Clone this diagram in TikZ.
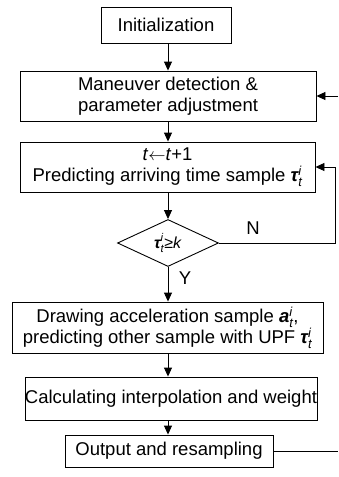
\documentclass[tikz,border=0pt]{standalone}
\usepackage{amsmath}
\usepackage{fontspec}
\setmainfont{Liberation Sans}
\usetikzlibrary{shapes.geometric,arrows.meta}
\newcommand\tauti{$\text{\bfseries\itshape τ}^{\text{\itshape i}}_{\text{\itshape t}}$}
\newcommand\accti{$\text{\bfseries\itshape a}^{\text{\itshape i}}_{\text{\itshape t}}$}
\begin{document}
\begin{tikzpicture}[x=1pt,y=-1pt,
  box/.style={draw,line width=0.9pt,inner sep=0pt,align=center,font=\fontsize{18.5}{21}\selectfont},
  dia/.style={draw,line width=0.9pt,diamond,inner sep=0pt,font=\fontsize{16}{18}\selectfont},
  lbl/.style={font=\fontsize{18.5}{21}\selectfont},
  arr/.style={line width=0.9pt,-{Triangle[length=9pt,width=8pt]}},
  ln/.style={line width=0.9pt}]
\useasboundingbox (0,0) rectangle (338,477);
\fill[white] (0,0) rectangle (338,477);
\node[box,minimum width=130pt,minimum height=36pt] (init) at (166,25) {Initialization};
\node[box,minimum width=296pt,minimum height=50pt] (man) at (168,96) {Maneuver detection \&\\parameter adjustment};
\node[box,minimum width=295pt,minimum height=50pt] (pred) at (167.5,167) {\textit{t}$\leftarrow$\textit{t}+1\\Predicting arriving time sample \tauti};
\node[dia,minimum width=101pt,minimum height=47pt] (cond) at (168,243) {\tauti≥\textit{k}};
\node[box,minimum width=311pt,minimum height=51pt] (draw) at (167.5,327.5) {Drawing acceleration sample \accti,\\predicting other sample with UPF \tauti};
\node[box,minimum width=288pt,minimum height=43pt] (calc) at (171,398.5) {Calculating interpolation and weight};
\node[box,minimum width=208pt,minimum height=32pt] (out) at (169,451) {Output and resampling};
\node[lbl] (nl) at (253,228) {N};
\node[lbl] (yl) at (185,278) {Y};
\coordinate (e1) at (338,96);
\coordinate (e2) at (338,451);
\coordinate (c1) at (335,243);
\coordinate (c2) at (335,167);
\draw[arr] (init.south -| 168,0) -- (man.north -| 168,0);
\draw[arr] (man.south -| 168,0) -- (pred.north -| 168,0);
\draw[arr] (pred.south -| cond.north) -- (cond.north);
\draw[arr] (cond.south) -- (draw.north -| cond.south);
\draw[arr] (draw.south -| 168,0) -- (calc.north -| 168,0);
\draw[arr] (calc.south -| 168,0) -- (out.north -| 168,0);
\draw[arr] (cond.east) -- (c1) -- (c2) -- (pred.east);
\draw[arr] (e1) -- (man.east);
\draw[ln] (out.east) -- (e2);
\end{tikzpicture}
\end{document}
